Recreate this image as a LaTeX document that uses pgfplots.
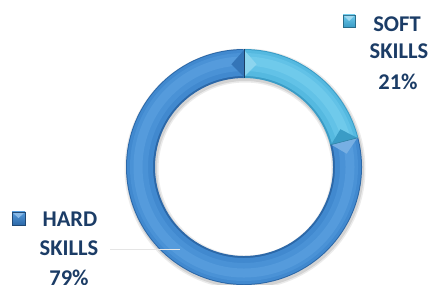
\documentclass[border=0pt]{standalone}
\usepackage{pgfplots}
\usepackage{pgfplotstable}
\pgfplotsset{compat=1.18}
\usepackage{fontspec}
\setmainfont{Carlito}[BoldFont={Carlito Bold}]
\definecolor{hardedge}{HTML}{2C68A8}
\definecolor{hardbase}{HTML}{4189CF}
\definecolor{hardmid}{HTML}{4A92D6}
\definecolor{hardhl}{HTML}{559BDC}
\definecolor{softedge}{HTML}{3A9CC6}
\definecolor{softbase}{HTML}{55B9E0}
\definecolor{softmid}{HTML}{62C2E7}
\definecolor{softhl}{HTML}{6FCAEB}
\definecolor{labtext}{HTML}{1B3C66}
\pgfplotstableread{
label value
soft 21
hard 79
}\skills
\newcommand\tubearc[5]{\draw[line width=#4, draw=#5, line cap=butt] ([shift={(#1:#3)}]C) arc[start angle=#1, end angle=#2, radius=#3];}
\newcommand\facet[3]{\fill[#3] ([shift={(#1:117pt)}]C) -- ([shift={(#1:90pt)}]C) -- ([shift={(#2:103.5pt)}]C) -- cycle;}
\begin{document}
\begin{tikzpicture}
\pgfplotstablegetelem{0}{value}\of\skills \let\vsoft\pgfplotsretval
\pgfplotstablegetelem{1}{value}\of\skills \let\vhard\pgfplotsretval
\pgfmathsetmacro\aA{90}
\pgfmathsetmacro\aB{90-3.6*\vsoft}
\pgfmathsetmacro\aC{\aB-3.6*\vhard}
\pgfmathsetmacro\fA{\aA+7}
\pgfmathsetmacro\fAs{\aA-7}
\pgfmathsetmacro\fB{\aB-7}
\pgfmathsetmacro\fBs{\aB+7}
\begin{axis}[name=A, scale only axis, width=431pt, height=284pt,
  xmin=0, xmax=431, ymin=0, ymax=284, hide axis, clip=true]
\coordinate (C) at (axis cs:244,117);
\coordinate (S) at (axis cs:245,115);
% shadow
\draw[line width=34pt, black, opacity=0.08] (S) circle[radius=103.5pt];
\draw[line width=31pt, black, opacity=0.10] (S) circle[radius=103.5pt];
% hard skills tube
\tubearc{\aB}{\aC}{103.5pt}{29pt}{hardedge}
\tubearc{\aB}{\aC}{104pt}{26pt}{hardbase}
\tubearc{\aB}{\aC}{105pt}{18pt}{hardmid}
\tubearc{\aB}{\aC}{106pt}{9pt}{hardhl}
% soft skills tube
\tubearc{\aA}{\aB}{103.5pt}{29pt}{softedge}
\tubearc{\aA}{\aB}{104pt}{26pt}{softbase}
\tubearc{\aA}{\aB}{105pt}{18pt}{softmid}
\tubearc{\aA}{\aB}{106pt}{9pt}{softhl}
% bevel facets
\facet{\aA}{\fA}{hardedge!60!hardbase}
\facet{\aA}{\fAs}{softhl!80!white}
\facet{\aB}{\fB}{hardhl!80!white}
\facet{\aB}{\fBs}{softedge}
% separators
\draw[line width=0.8pt, hardedge!60!black] ([shift={(\aA:89pt)}]C) -- ([shift={(\aA:118pt)}]C);
\draw[line width=0.5pt, softedge!80!black] ([shift={(\aB:89pt)}]C) -- ([shift={(\aB:118pt)}]C);
% leader line
\draw[line width=0.8pt, gray!20] (axis cs:110,35) -- (axis cs:180,35);
% legend squares
\shade[top color=softhl, bottom color=softedge, draw=softedge!70!black, line width=0.4pt]
  (axis cs:343,257) rectangle (axis cs:355,269);
\fill[softmid!60!white] (axis cs:344,268) -- (axis cs:354,268) -- (axis cs:349,263) -- cycle;
\shade[top color=hardhl, bottom color=hardedge, draw=hardedge!70!black, line width=0.4pt]
  (axis cs:12,59) rectangle (axis cs:25,72);
\fill[hardhl!70!white] (axis cs:13,71) -- (axis cs:24,71) -- (axis cs:18.5,66) -- cycle;
% labels
\node[anchor=base, font=\fontsize{22.5}{26}\selectfont\bfseries, text=labtext, inner sep=0pt] at (axis cs:397,252) {SOFT};
\node[anchor=base, font=\fontsize{22.5}{26}\selectfont\bfseries, text=labtext, inner sep=0pt] at (axis cs:399,225) {SKILLS};
\node[anchor=base, font=\fontsize{22.5}{26}\selectfont\bfseries, text=labtext, inner sep=0pt] at (axis cs:398,194) {21\%};
\node[anchor=base, font=\fontsize{22.5}{26}\selectfont\bfseries, text=labtext, inner sep=0pt] at (axis cs:70,57) {HARD};
\node[anchor=base, font=\fontsize{22.5}{26}\selectfont\bfseries, text=labtext, inner sep=0pt] at (axis cs:69,29) {SKILLS};
\node[anchor=base, font=\fontsize{22.5}{26}\selectfont\bfseries, text=labtext, inner sep=0pt] at (axis cs:69,-1) {79\%};
\end{axis}
\pgfresetboundingbox
\useasboundingbox (A.south west) rectangle (A.north east);
\end{tikzpicture}
\end{document}
